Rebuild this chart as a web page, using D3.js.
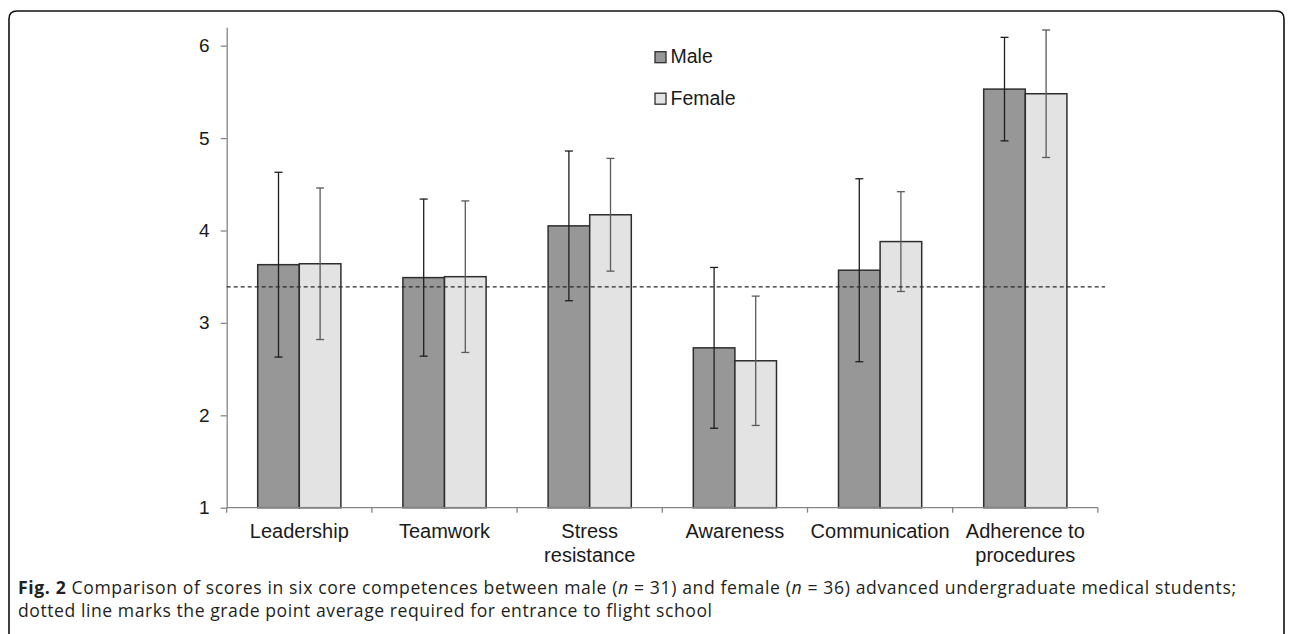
<!DOCTYPE html>
<html>
<head>
<meta charset="utf-8">
<script src="https://cdn.jsdelivr.net/npm/d3@7/dist/d3.min.js"></script>
<style>
  html, body { margin: 0; padding: 0; background: #fff; }
  svg { display: block; }
</style>
</head>
<body>
<div id="chart"></div>
<script>
// Data
const categories = ['Leadership', 'Teamwork', 'Stress resistance', 'Awareness', 'Communication', 'Adherence to procedures']
const categoryLines = [['Leadership'], ['Teamwork'], ['Stress', 'resistance'], ['Awareness'], ['Communication'], ['Adherence to', 'procedures']]
const seriesNames = ['Male', 'Female']
const maleMean = [3.63, 3.49, 4.05, 2.73, 3.57, 5.53]
const maleSD = [1.00, 0.85, 0.81, 0.87, 0.99, 0.56]
const femaleMean = [3.64, 3.50, 4.17, 2.59, 3.88, 5.48]
const femaleSD = [0.82, 0.82, 0.61, 0.70, 0.54, 0.69]
const yTicks = [1, 2, 3, 4, 5, 6]
const requiredAverage = 3.39

const captionBold = 'Fig. 2'
const captionLine1 = [' Comparison of scores in six core competences between male (', 'n', ' = 31) and female (', 'n', ' = 36) advanced undergraduate medical students;']
const captionLine2 = 'dotted line marks the grade point average required for entrance to flight school'

const rows = categories.map((c, i) => ({
    category: c,
    lines: categoryLines[i],
    values: [
        { series: 'Male', mean: maleMean[i], sd: maleSD[i] },
        { series: 'Female', mean: femaleMean[i], sd: femaleSD[i] }
    ]
}))

// Presentation
const width = 1293
const height = 634
const fills = { Male: '#979797', Female: '#e3e3e3' }
const errColors = { Male: '#1e1e1e', Female: '#5a5a5a' }
const axisColor = '#858585'
const textColor = '#1a1a1a'
const chartFont = '"Liberation Sans", Arial, sans-serif'
const captionFont = '"Open Sans", "Noto Sans", sans-serif'

const svg = d3.select('#chart').append('svg')
    .attr('width', width)
    .attr('height', height)

svg.append('rect').attr('width', width).attr('height', height).attr('fill', '#fff')

// frame with rounded top corners, runs off the bottom
const fl = 9, ft = 11, fr = 1284, r = 8
svg.append('path')
    .attr('d', `M${fl},${height + 5} V${ft + r} Q${fl},${ft} ${fl + r},${ft} H${fr - r} Q${fr},${ft} ${fr},${ft + r} V${height + 5}`)
    .attr('fill', 'none')
    .attr('stroke', '#111')
    .attr('stroke-width', 1.6)

// Scales
const x = d3.scaleBand()
    .domain(categories)
    .range([226.7, 1097.9])
    .padding(0)
const groupInset = 31
const xSub = d3.scaleBand()
    .domain(seriesNames)
    .range([groupInset, x.bandwidth() - groupInset])
    .padding(0)
const y = d3.scaleLinear()
    .domain([1, 6.2])
    .range([507.7, 27.2])

const chart = svg.append('g')

// Y axis
const yAxis = chart.append('g')
    .attr('transform', `translate(${x.range()[0]},0)`)
    .call(d3.axisLeft(y).tickValues(yTicks).tickSize(6).tickSizeOuter(0).tickPadding(11).tickFormat(d3.format('d')))
yAxis.select('.domain').attr('stroke', axisColor).attr('stroke-width', 1.3)
yAxis.selectAll('.tick line').attr('stroke', axisColor).attr('stroke-width', 1.3)
yAxis.selectAll('.tick text')
    .attr('fill', textColor)
    .style('font-family', chartFont)
    .style('font-size', '19px')

// Bars
const groups = chart.selectAll('g.group')
    .data(rows)
    .join('g')
    .attr('class', 'group')
    .attr('transform', d => `translate(${x(d.category)},0)`)

groups.selectAll('rect')
    .data(d => d.values)
    .join('rect')
    .attr('x', d => xSub(d.series))
    .attr('width', xSub.bandwidth())
    .attr('y', d => y(d.mean))
    .attr('height', d => y(1) - y(d.mean))
    .attr('fill', d => fills[d.series])
    .attr('stroke', '#2e2e2e')
    .attr('stroke-width', 1.5)

// Error bars
const capHalf = 4
const err = groups.selectAll('g.err')
    .data(d => d.values)
    .join('g')
    .attr('class', 'err')
    .attr('stroke', d => errColors[d.series])
    .attr('stroke-width', 1.3)
err.append('line')
    .attr('x1', d => xSub(d.series) + xSub.bandwidth() / 2)
    .attr('x2', d => xSub(d.series) + xSub.bandwidth() / 2)
    .attr('y1', d => y(d.mean + d.sd))
    .attr('y2', d => y(d.mean - d.sd))
err.selectAll('line.cap')
    .data(d => [d.mean + d.sd, d.mean - d.sd].map(v => ({ v, series: d.series })))
    .join('line')
    .attr('class', 'cap')
    .attr('x1', d => xSub(d.series) + xSub.bandwidth() / 2 - capHalf)
    .attr('x2', d => xSub(d.series) + xSub.bandwidth() / 2 + capHalf)
    .attr('y1', d => y(d.v))
    .attr('y2', d => y(d.v))

// X axis: line, boundary ticks, labels
const xAxis = chart.append('g').attr('transform', `translate(0,${y(1)})`)
xAxis.append('line')
    .attr('x1', x.range()[0])
    .attr('x2', x.range()[1])
    .attr('stroke', axisColor)
    .attr('stroke-width', 1.3)
xAxis.selectAll('line.tick')
    .data([...categories.map(c => x(c)), x.range()[1]])
    .join('line')
    .attr('class', 'tick')
    .attr('x1', d => d).attr('x2', d => d)
    .attr('y1', 0).attr('y2', 5)
    .attr('stroke', axisColor)
    .attr('stroke-width', 1.3)
xAxis.selectAll('text')
    .data(rows)
    .join('text')
    .attr('x', d => x(d.category) + x.bandwidth() / 2)
    .attr('y', 30.6)
    .attr('text-anchor', 'middle')
    .attr('fill', textColor)
    .style('font-family', chartFont)
    .style('font-size', '20px')
    .selectAll('tspan')
    .data(d => d.lines.map(t => ({ t, cx: x(d.category) + x.bandwidth() / 2 })))
    .join('tspan')
    .attr('x', d => d.cx)
    .attr('dy', (d, i) => i === 0 ? 0 : 23.4)
    .text(d => d.t)

// Dotted reference line
chart.append('line')
    .attr('x1', x.range()[0])
    .attr('x2', 1105)
    .attr('y1', y(requiredAverage))
    .attr('y2', y(requiredAverage))
    .attr('stroke', '#2a2a2a')
    .attr('stroke-width', 1.1)
    .attr('stroke-dasharray', '4,3')

// Legend
const legend = chart.selectAll('g.legend')
    .data(seriesNames)
    .join('g')
    .attr('class', 'legend')
    .attr('transform', (d, i) => `translate(655,${51.7 + i * 41.5})`)
legend.append('rect')
    .attr('width', 11).attr('height', 11)
    .attr('fill', d => fills[d])
    .attr('stroke', '#2e2e2e')
    .attr('stroke-width', 1.3)
legend.append('text')
    .attr('x', 15.5)
    .attr('y', 11.6)
    .attr('fill', textColor)
    .style('font-family', chartFont)
    .style('font-size', '19.5px')
    .text(d => d)

// Caption
const fitText = (sel, target) => {
    const node = sel.node()
    const natural = node.getComputedTextLength()
    const n = node.getNumberOfChars()
    sel.attr('letter-spacing', (target - natural) / (n - 1))
}
const cap1 = svg.append('text')
    .attr('x', 18).attr('y', 594)
    .attr('fill', '#231f20')
    .style('font-family', captionFont)
    .style('font-size', '17.6px')
cap1.append('tspan').attr('font-weight', 'bold').text(captionBold)
captionLine1.forEach(part => {
    cap1.append('tspan')
        .attr('font-style', part === 'n' ? 'italic' : 'normal')
        .text(part)
})
fitText(cap1, 1218)

const cap2 = svg.append('text')
    .attr('x', 18).attr('y', 617)
    .attr('fill', '#231f20')
    .style('font-family', captionFont)
    .style('font-size', '17.6px')
    .text(captionLine2)
fitText(cap2, 694)
</script>
</body>
</html>
